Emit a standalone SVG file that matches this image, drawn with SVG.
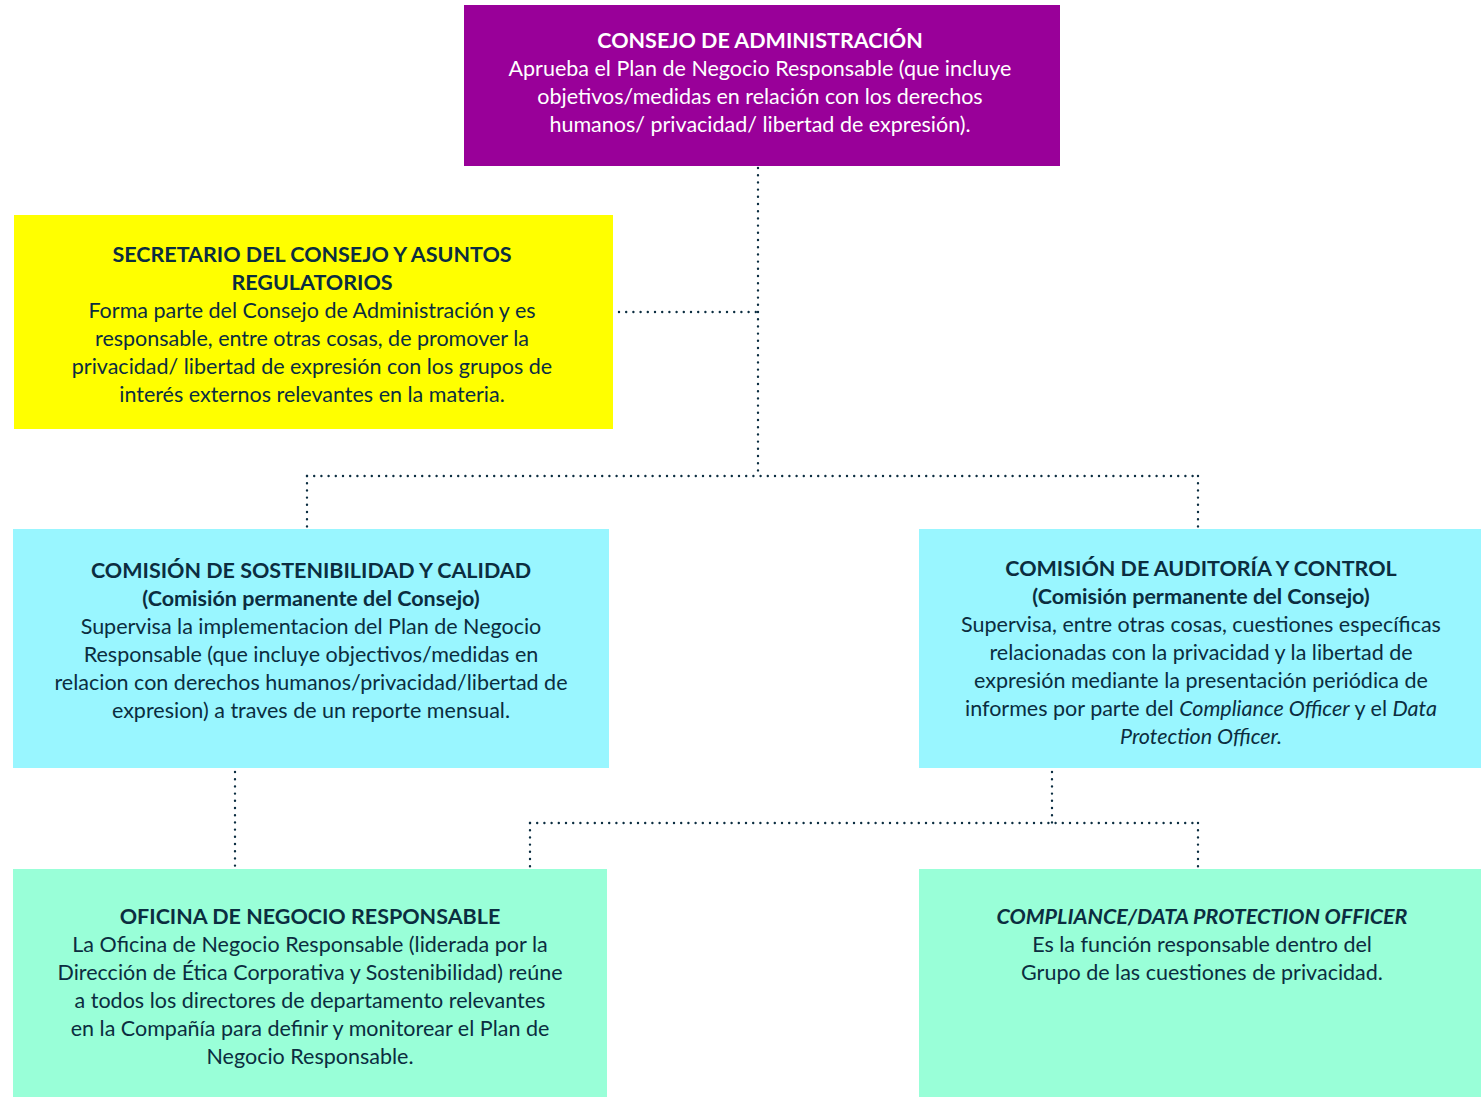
<svg xmlns="http://www.w3.org/2000/svg" width="1484" height="1097" viewBox="0 0 1484 1097">
<style>
text{font-family:Lato,"Open Sans","Liberation Sans",sans-serif;font-size:21.5px;text-anchor:middle;fill:#0b2d40}
.t{font-weight:bold}
.w{fill:#ffffff}
.i{font-style:italic}
.c{fill:none;stroke:#0b2d40;stroke-width:2.4;stroke-linecap:round;stroke-dasharray:0 7.2}
</style>
<rect width="1484" height="1097" fill="#ffffff"/>
<g id="connectors">
<path class="c" d="M758 168V476"/>
<path class="c" d="M619 312H758"/>
<path class="c" d="M307 476H1198"/>
<path class="c" d="M307 476V527"/>
<path class="c" d="M1198 476V527"/>
<path class="c" d="M235 772V868"/>
<path class="c" d="M1052 772V823"/>
<path class="c" d="M530 823H1198"/>
<path class="c" d="M530 823V868"/>
<path class="c" d="M1198 823V868"/>
</g>
<g id="consejo">
<rect x="464" y="5" width="596" height="161" fill="#990099"/>
<text class="t w" x="760" y="48">CONSEJO DE ADMINISTRACIÓN</text>
<text class="w" x="760" y="76">Aprueba el Plan de Negocio Responsable (que incluye</text>
<text class="w" x="760" y="104">objetivos/medidas en relación con los derechos</text>
<text class="w" x="760" y="132">humanos/ privacidad/ libertad de expresión).</text>
</g>
<g id="secretario">
<rect x="14" y="215" width="599" height="214" fill="#ffff00"/>
<text class="t" x="312" y="262">SECRETARIO DEL CONSEJO Y ASUNTOS</text>
<text class="t" x="312" y="290">REGULATORIOS</text>
<text x="312" y="318">Forma parte del Consejo de Administración y es</text>
<text x="312" y="346">responsable, entre otras cosas, de promover la</text>
<text x="312" y="374">privacidad/ libertad de expresión con los grupos de</text>
<text x="312" y="402">interés externos relevantes en la materia.</text>
</g>
<g id="sostenibilidad">
<rect x="13" y="529" width="596" height="239" fill="#99f6ff"/>
<text class="t" x="311" y="578">COMISIÓN DE SOSTENIBILIDAD Y CALIDAD</text>
<text class="t" x="311" y="606">(Comisión permanente del Consejo)</text>
<text x="311" y="634">Supervisa la implementacion del Plan de Negocio</text>
<text x="311" y="662">Responsable (que incluye objectivos/medidas en</text>
<text x="311" y="690">relacion con derechos humanos/privacidad/libertad de</text>
<text x="311" y="718">expresion) a traves de un reporte mensual.</text>
</g>
<g id="auditoria">
<rect x="919" y="529" width="562" height="239" fill="#99f6ff"/>
<text class="t" x="1201" y="576">COMISIÓN DE AUDITORÍA Y CONTROL</text>
<text class="t" x="1201" y="604">(Comisión permanente del Consejo)</text>
<text x="1201" y="632">Supervisa, entre otras cosas, cuestiones específicas</text>
<text x="1201" y="660">relacionadas con la privacidad y la libertad de</text>
<text x="1201" y="688">expresión mediante la presentación periódica de</text>
<text x="1201" y="716">informes por parte del <tspan class="i">Compliance Officer</tspan> y el <tspan class="i">Data</tspan></text>
<text class="i" x="1201" y="744">Protection Officer.</text>
</g>
<g id="oficina">
<rect x="13" y="869" width="594" height="228" fill="#99ffd8"/>
<text class="t" x="310" y="924">OFICINA DE NEGOCIO RESPONSABLE</text>
<text x="310" y="952">La Oficina de Negocio Responsable (liderada por la</text>
<text x="310" y="980">Dirección de Ética Corporativa y Sostenibilidad) reúne</text>
<text x="310" y="1008">a todos los directores de departamento relevantes</text>
<text x="310" y="1036">en la Compañía para definir y monitorear el Plan de</text>
<text x="310" y="1064">Negocio Responsable.</text>
</g>
<g id="compliance">
<rect x="919" y="869" width="562" height="228" fill="#99ffd8"/>
<text class="t i" x="1202" y="924">COMPLIANCE/DATA PROTECTION OFFICER</text>
<text x="1202" y="952">Es la función responsable dentro del</text>
<text x="1202" y="980">Grupo de las cuestiones de privacidad.</text>
</g>
</svg>
